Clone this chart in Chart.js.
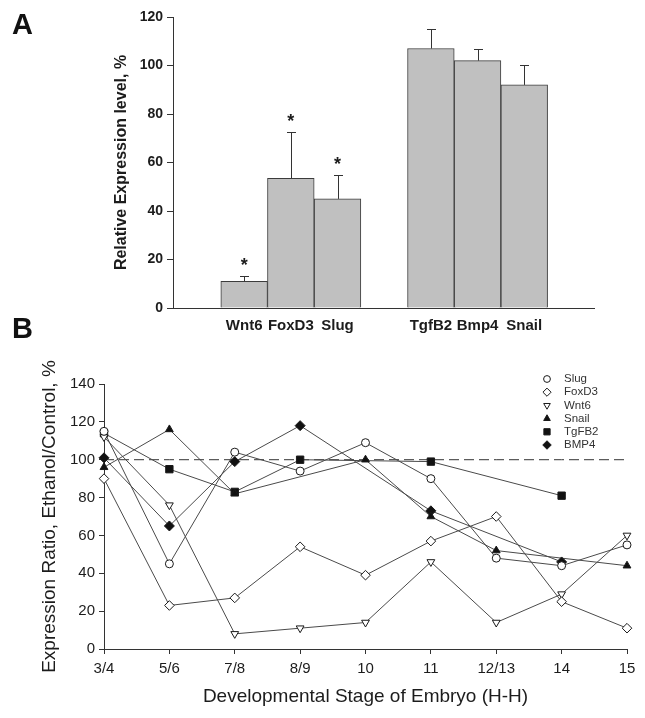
<!DOCTYPE html>
<html>
<head>
<meta charset="utf-8">
<script src="https://cdn.jsdelivr.net/npm/chart.js@4.4.1/dist/chart.umd.min.js"></script>
<style>
  html, body { margin: 0; padding: 0; background: #fff; }
  #wrap { position: relative; width: 645px; height: 718px; overflow: hidden; background: #fff; }
  #chartA { position: absolute; left: 0; top: 0; }
  #chartB { position: absolute; left: 0; top: 340px; }
</style>
</head>
<body>
<div id="wrap">
  <canvas id="chartA" width="645" height="340"></canvas>
  <canvas id="chartB" width="645" height="378"></canvas>
</div>
<script>
// ---- panel A data ----
var genesA = ['Wnt6', 'FoxD3', 'Slug', '', 'TgfB2', 'Bmp4', 'Snail'];
var levelA = [11, 53.5, 45, null, 107, 102, 92];
var errA   = [2, 19, 10, null, 8, 5, 8];
var sigA   = [true, true, true, false, false, false, false];

// ---- panel B data ----
var stages = ['3/4', '5/6', '7/8', '8/9', '10', '11', '12/13', '14', '15'];
var slug   = [115, 45, 104, 94, 109, 90, 48, 44, 55];
var foxd3  = [90, 23, 27, 54, 39, 57, 70, 25, 11];
var wnt6   = [112, 76, 8, 11, 14, 46, 14, 29, 60];
var snail  = [96, 116, 82, null, 100, 70, 52, null, 44];
var tgfb2  = [114, 95, 83, 100, null, 99, null, 81, null];
var bmp4   = [101, 65, 99, 118, null, 73, null, 46, null];
var refLevel = 100;

var FONT = '"Liberation Sans", Arial, Helvetica, sans-serif';
var INK = '#1c1c1c';
var AXIS = '#333';

// ---------- panel A ----------
var barPoints = [];
levelA.forEach(function(v, i) {
    if (v !== null) barPoints.push({x: i, y: v});
});

var errorBars = {
    id: 'errorBars',
    afterDatasetsDraw: function(chart) {
        var ctx = chart.ctx;
        var y = chart.scales.y;
        var meta = chart.getDatasetMeta(0);
        ctx.save();
        ctx.strokeStyle = AXIS;
        ctx.lineWidth = 1;
        ctx.fillStyle = INK;
        ctx.font = 'bold 18px ' + FONT;
        ctx.textAlign = 'center';
        ctx.textBaseline = 'alphabetic';
        meta.data.forEach(function(bar, k) {
            var i = chart.data.datasets[0].data[k].x;
            var base = y.getPixelForValue(levelA[i]);
            var top = y.getPixelForValue(levelA[i] + errA[i]);
            var cx = Math.round(bar.x) + 0.5;
            ctx.beginPath();
            ctx.moveTo(cx, base);
            ctx.lineTo(cx, Math.round(top) + 0.5);
            ctx.moveTo(cx - 4.5, Math.round(top) + 0.5);
            ctx.lineTo(cx + 4.5, Math.round(top) + 0.5);
            ctx.stroke();
            if (sigA[i]) {
                ctx.fillText('*', bar.x, top - 5);
            }
        });
        // panel letters
        ctx.font = 'bold 29px ' + FONT;
        ctx.textAlign = 'left';
        ctx.fillStyle = '#111';
        ctx.fillText('A', 12, 34);
        ctx.fillText('B', 12, 338);
        ctx.restore();
    }
};

new Chart(document.getElementById('chartA'), {
    type: 'bar',
    data: {
        datasets: [{
            data: barPoints,
            backgroundColor: '#c0c0c0',
            borderColor: '#3c3c3c',
            borderWidth: 1,
            barPercentage: 1,
            categoryPercentage: 1
        }]
    },
    options: {
        responsive: false,
        animation: false,
        devicePixelRatio: 1,
        layout: { padding: { left: 112, top: 17, right: 51, bottom: 0 } },
        plugins: { legend: { display: false }, tooltip: { enabled: false } },
        scales: {
            x: {
                type: 'linear',
                min: -0.88,
                max: 6.85,
                grid: { display: true, drawOnChartArea: false, drawTicks: false },
                border: { display: true, color: AXIS, width: 1 },
                ticks: {
                    stepSize: 1,
                    includeBounds: false,
                    autoSkip: false,
                    maxRotation: 0,
                    padding: 9,
                    color: INK,
                    font: { family: FONT, size: 15, weight: 'bold' },
                    callback: function(v) { return genesA[v] !== undefined ? genesA[v] : ''; }
                },
                afterFit: function(s) { s.height = 32; }
            },
            y: {
                min: 0,
                max: 120,
                grid: { drawOnChartArea: false, tickLength: 6, color: AXIS },
                border: { color: AXIS, width: 1 },
                ticks: {
                    stepSize: 20,
                    padding: 4,
                    color: INK,
                    font: { family: FONT, size: 14, weight: 'bold' }
                },
                title: {
                    display: true,
                    text: 'Relative Expression level, %',
                    color: INK,
                    padding: 0,
                    font: { family: FONT, size: 16, weight: 'bold' }
                },
                afterFit: function(s) { s.width = 61; }
            }
        }
    },
    plugins: [errorBars]
});

// ---------- panel B ----------
var seriesB = [
    { label: 'Slug',  values: slug,  style: 'circle',   rot: 0,   r: 4,   fill: '#fff' },
    { label: 'FoxD3', values: foxd3, style: 'rectRot',  rot: 0,   r: 4.8, fill: '#fff' },
    { label: 'Wnt6',  values: wnt6,  style: 'triangle', rot: 180, r: 4.5, fill: '#fff' },
    { label: 'Snail', values: snail, style: 'triangle', rot: 0,   r: 4.5, fill: '#111' },
    { label: 'TgFB2', values: tgfb2, style: 'rect',     rot: 0,   r: 5.2, fill: '#111' },
    { label: 'BMP4',  values: bmp4,  style: 'rectRot',  rot: 0,   r: 5,   fill: '#111' }
];

var datasetsB = [{
    label: 'ref',
    data: stages.map(function() { return refLevel; }),
    borderColor: '#333',
    borderWidth: 1,
    borderDash: [10, 5],
    pointRadius: 0,
    order: 3
}];

seriesB.forEach(function(s) {
    datasetsB.push({
        label: s.label + ' line',
        data: s.values,
        borderColor: '#4a4a4a',
        borderWidth: 1,
        pointRadius: 0,
        spanGaps: true,
        tension: 0,
        clip: false,
        order: 2
    });
});
seriesB.forEach(function(s) {
    datasetsB.push({
        label: s.label,
        data: s.values,
        showLine: false,
        pointStyle: s.style,
        pointRotation: s.rot,
        pointRadius: s.r,
        pointBackgroundColor: s.fill,
        pointBorderColor: '#1a1a1a',
        pointBorderWidth: 1,
        clip: false,
        order: 1
    });
});

var legendB = {
    id: 'legendB',
    afterDraw: function(chart) {
        var ctx = chart.ctx;
        ctx.save();
        ctx.font = '11.5px ' + FONT;
        ctx.textBaseline = 'middle';
        ctx.textAlign = 'left';
        seriesB.forEach(function(s, k) {
            var yy = 39 + k * 13.2;
            ctx.fillStyle = s.fill;
            ctx.strokeStyle = '#1a1a1a';
            ctx.lineWidth = 1;
            if (Chart.helpers && Chart.helpers.drawPoint) {
                Chart.helpers.drawPoint(ctx, {
                    pointStyle: s.style, rotation: s.rot, radius: s.r * 0.85, borderWidth: 1
                }, 547, yy);
            } else {
                ctx.beginPath();
                ctx.arc(547, yy, 3.5, 0, Math.PI * 2);
                ctx.fill();
                ctx.stroke();
            }
            ctx.fillStyle = '#333';
            ctx.fillText(s.label, 564, yy);
        });
        ctx.restore();
    }
};

new Chart(document.getElementById('chartB'), {
    type: 'line',
    data: { labels: stages, datasets: datasetsB },
    options: {
        responsive: false,
        animation: false,
        devicePixelRatio: 1,
        layout: { padding: { left: 38, top: 44, right: 18, bottom: 10 } },
        plugins: { legend: { display: false }, tooltip: { enabled: false } },
        scales: {
            x: {
                type: 'category',
                offset: false,
                grid: { drawOnChartArea: false, tickLength: 5, color: AXIS },
                border: { color: AXIS, width: 1 },
                ticks: {
                    padding: 6,
                    autoSkip: false,
                    maxRotation: 0,
                    color: INK,
                    font: { family: FONT, size: 15 }
                },
                title: {
                    display: true,
                    text: 'Developmental Stage of Embryo (H-H)',
                    color: INK,
                    padding: 0,
                    font: { family: FONT, size: 19 }
                },
                afterFit: function(s) { s.height = 59; }
            },
            y: {
                min: 0,
                max: 140,
                grid: { drawOnChartArea: false, tickLength: 5, color: AXIS },
                border: { color: AXIS, width: 1 },
                ticks: {
                    stepSize: 20,
                    padding: 4,
                    color: INK,
                    font: { family: FONT, size: 15 }
                },
                title: {
                    display: true,
                    text: 'Expression Ratio, Ethanol/Control, %',
                    color: INK,
                    padding: 0,
                    font: { family: FONT, size: 19 }
                },
                afterFit: function(s) { s.width = 66; }
            }
        }
    },
    plugins: [legendB]
});
</script>
</body>
</html>
